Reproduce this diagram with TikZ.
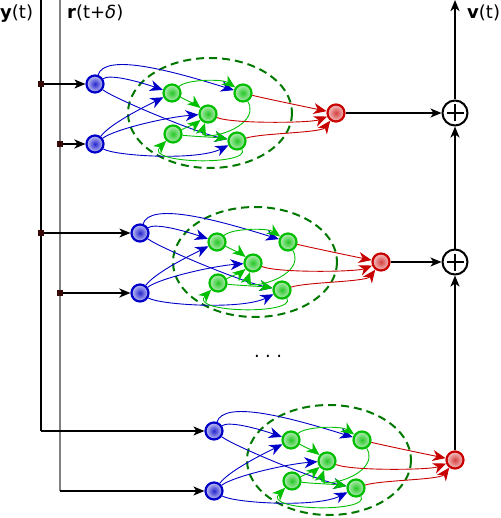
\documentclass[tikz,border=0pt]{standalone}
\usepackage{fontspec}
\setmainfont{DejaVu Sans}
\usetikzlibrary{arrows.meta}
\definecolor{eblue}{RGB}{0,0,200}
\definecolor{egreen}{RGB}{0,190,0}
\definecolor{ered}{RGB}{200,0,0}
\definecolor{edash}{RGB}{0,120,0}
\definecolor{sqcol}{RGB}{55,10,10}
\tikzset{
 unit/.style={circle, minimum size=17pt, inner sep=0pt, line width=2.2pt},
 bnode/.style={unit, draw=eblue, inner color=eblue!85!white, outer color=eblue!22!white},
 gnode/.style={unit, draw=egreen, inner color=egreen!85!white, outer color=egreen!28!white},
 rnode/.style={unit, draw=ered, inner color=ered!75!white, outer color=ered!22!white},
 ctip/.style={-{Stealth[length=13pt,width=11pt,inset=4pt]}},
 bedge/.style={ctip, draw=eblue, line width=0.9pt},
 gedge/.style={ctip, draw=egreen, line width=0.9pt},
 redge/.style={ctip, draw=ered, line width=0.9pt},
 ens/.style={draw=edash, line width=2pt, dash pattern=on 8pt off 5pt},
 sq/.style={rectangle, fill=sqcol, minimum size=6.5pt, inner sep=0pt},
 blk/.style={-{Stealth[length=11pt,width=9pt,inset=3pt]}},
 plusnode/.style={circle, draw, line width=2pt, minimum size=25pt, inner sep=0pt,
   path picture={\draw[line width=2pt] (path picture bounding box.center) ++(-8.5pt,0) -- ++(17pt,0)
     (path picture bounding box.center) ++(0,-8.5pt) -- ++(0,17pt);}},
 lab/.style={inner sep=0pt, anchor=base west, font=\fontsize{18}{20}\selectfont},
}
\newcommand\resmod[3]{%
 \begin{scope}[shift={(#2,#3)}]
  \draw[ens] (210,113) ellipse [x radius=82, y radius=55];
  \node[bnode] (#1b1) at (95,84) {};
  \node[bnode] (#1b2) at (95,144) {};
  \node[gnode] (#1g1) at (172,93) {};
  \node[gnode] (#1g2) at (243,93) {};
  \node[gnode] (#1g3) at (208,114) {};
  \node[gnode] (#1g4) at (173,134) {};
  \node[gnode] (#1g5) at (237,141) {};
  \node[rnode] (#1r) at (336,113) {};
 \end{scope}
 \draw[bedge] (#1b1) .. controls +(10,-30) and +(-80,-25) .. (#1g2);
 \draw[bedge] (#1b1) .. controls +(15,-10) and +(-35,-12) .. (#1g1);
 \draw[bedge] (#1b1) .. controls +(20,15) and +(-40,-8) .. (#1g5);
 \draw[bedge] (#1b2) .. controls +(15,-20) and +(-30,15) .. (#1g1);
 \draw[bedge] (#1b2) .. controls +(20,-15) and +(-40,3) .. (#1g3);
 \draw[bedge] (#1b2) .. controls +(20,12) and +(-40,20) .. (#1g5);
 \draw[gedge] (#1g1) .. controls +(15,-14) and +(-20,-14) .. (#1g2);
 \draw[gedge] (#1g1) .. controls +(12,6) and +(-10,-8) .. (#1g3);
 \draw[gedge] (#1g4) .. controls +(10,-5) and +(-10,8) .. (#1g3);
 \draw[gedge] (#1g2) .. controls +(20,35) and +(-10,30) .. (#1g3);
 \draw[gedge] (#1g4) .. controls +(15,2) and +(-15,-3) .. (#1g5);
 \draw[gedge] (#1g5) .. controls +(15,25) and +(-30,30) .. (#1g4);
 \draw[redge] (#1g2) .. controls +(20,5) and +(-25,-5) .. (#1r);
 \draw[redge] (#1g3) .. controls +(25,10) and +(-25,10) .. (#1r);
 \draw[redge] (#1g5) .. controls +(25,-8) and +(-15,20) .. (#1r);
}
\begin{document}
\begin{tikzpicture}[x=1pt, y=-1pt]
\useasboundingbox (0,0) rectangle (500,518);
\resmod{a}{0}{0}
\resmod{b}{45}{149}
\resmod{c}{119}{347}
% inputs
\coordinate (ytop) at (41,0);
\coordinate (rtop) at (60,0);
\coordinate (ye) at (41,431);
\coordinate (rf) at (60,491);
\draw[line width=2pt] (ytop) -- (ye);
\draw[line width=1.4pt, gray] (rtop) -- (rf);
\node[sq] (ya) at (41,84) {};
\node[sq] (rb) at (60,144) {};
\node[sq] (yc) at (41,233) {};
\node[sq] (rd) at (60,293) {};
\draw[blk, line width=1.2pt] (ya) -- (ab1);
\draw[blk, line width=1.8pt] (rb) -- (ab2);
\draw[blk, line width=1.2pt] (yc) -- (bb1);
\draw[blk, line width=1.8pt] (rd) -- (bb2);
\draw[blk, line width=1.2pt] (ye) -- (cb1);
\draw[blk, line width=1.5pt] (rf) -- (cb2);
% outputs
\node[plusnode] (p1) at (455,113) {};
\node[plusnode] (p2) at (455,262) {};
\coordinate (vtop) at (455,0);
\draw[blk, line width=1.3pt] (ar) -- (p1);
\draw[blk, line width=1.3pt] (br) -- (p2);
\draw[blk, line width=2pt] (cr) -- (p2);
\draw[blk, line width=2pt] (p2) -- (p1);
\draw[blk, line width=2pt] (p1) -- (vtop);
% labels
\node[lab] (ylab) at (0,18.7) {\textbf{y}(t)};
\node[lab] (rlab) at (67,18.7) {\textbf{r}(t+\textit{δ})};
\node[lab] (vlab) at (467,18.7) {\textbf{v}(t)};
\node[inner sep=0pt, font=\fontsize{18}{20}\selectfont] (dots) at (268,356) {.\kern0.3em.\kern0.3em.};
\end{tikzpicture}
\end{document}
